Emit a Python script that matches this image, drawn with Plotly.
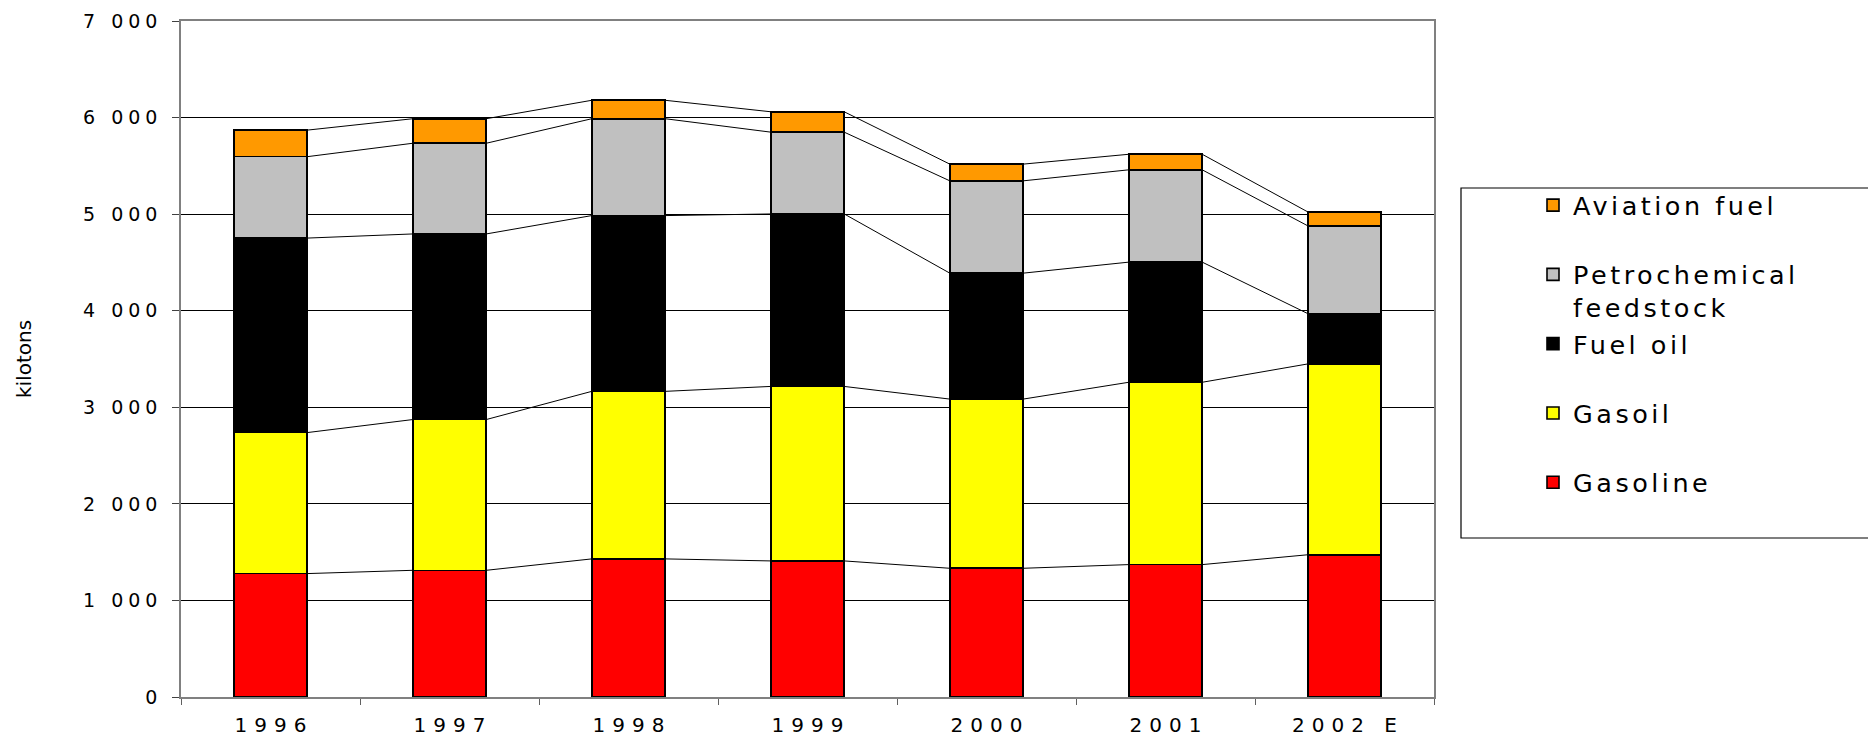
import plotly.graph_objects as go

# Oil product consumption, kilotons
years = ["1996", "1997", "1998", "1999", "2000", "2001", "2002 E"]

gasoline = [1278, 1312, 1430, 1409, 1333, 1371, 1473]
gasoil = [1460, 1561, 1735, 1807, 1752, 1888, 1976]
fuel_oil = [2014, 1922, 1820, 1786, 1304, 1244, 521]
petrochemical = [843, 939, 1003, 847, 956, 956, 909]
aviation = [275, 254, 191, 211, 173, 161, 144]

series_names = ["Gasoline", "Gasoil", "Fuel oil", "Petrochemical<br>feedstock", "Aviation fuel"]
series_colors = ["#FF0000", "#FFFF00", "#000000", "#C0C0C0", "#FF9900"]
series_values = [gasoline, gasoil, fuel_oil, petrochemical, aviation]

y_ticks = [0, 1000, 2000, 3000, 4000, 5000, 6000, 7000]
y_tick_labels = ["0", "1 000", "2 000", "3 000", "4 000", "5 000", "6 000", "7 000"]

BAR_W = 0.41
x = list(range(len(years)))

fig = go.Figure()

# stacked bars; every legend entry takes two text lines so entries are evenly spaced
for name, color, vals in zip(series_names, series_colors, series_values):
    label = name if "<br>" in name else name + "<br> "
    fig.add_trace(go.Bar(
        x=x, y=vals, name=label, width=BAR_W,
        marker=dict(color=color, line=dict(color="#000000", width=1.6)),
        legendgroup=name, hoverinfo="skip",
    ))

# series lines joining the top of each segment from one bar to the next
running = [0] * len(years)
for name, vals in zip(series_names, series_values):
    running = [a + b for a, b in zip(running, vals)]
    lx, ly = [], []
    for i in range(len(years) - 1):
        lx += [x[i] + BAR_W / 2, x[i + 1] - BAR_W / 2, None]
        ly += [running[i], running[i + 1], None]
    fig.add_trace(go.Scatter(
        x=lx, y=ly, mode="lines", line=dict(color="#000000", width=1),
        showlegend=False, legendgroup=name, hoverinfo="skip",
    ))

W, H = 1868, 736
ML, MR, MT, MB = 181, 434, 21, 39
pw, ph = W - ML - MR, H - MT - MB


def px_x(v):
    return (v - ML) / pw


def px_y(v):
    return (H - MB - v) / ph


fig.update_layout(
    width=W, height=H,
    margin=dict(l=ML, r=MR, t=MT, b=MB, pad=0, autoexpand=False),
    paper_bgcolor="white", plot_bgcolor="white",
    font=dict(family="DejaVu Sans", color="#000000"),
    barmode="stack",
    showlegend=True,
    legend=dict(
        x=px_x(1533), xanchor="left", y=px_y(182), yanchor="top",
        font=dict(size=25.5), bgcolor="rgba(0,0,0,0)", borderwidth=0,
        traceorder="reversed", valign="top",
    ),
    shapes=[dict(
        type="rect", xref="paper", yref="paper",
        x0=px_x(1461), x1=px_x(1880), y0=px_y(538), y1=px_y(188),
        line=dict(color="#000000", width=1.2), fillcolor="rgba(0,0,0,0)",
        layer="above",
    )],
)

fig.update_xaxes(
    range=[-0.5, len(years) - 0.5],
    tickvals=x, ticktext=years, ticks="",
    tickfont=dict(size=20),
    ticklabelstandoff=9,
    automargin=False,
    showgrid=False, zeroline=False,
    showline=True, linecolor="#808080", linewidth=1.6, mirror=True,
    minor=dict(tick0=-0.5, dtick=1, ticks="outside", ticklen=6,
               tickcolor="#606060", tickwidth=1.2, showgrid=False),
)

fig.update_yaxes(
    range=[0, 7000],
    tickvals=y_ticks, ticktext=y_tick_labels,
    ticks="outside", ticklen=7, tickcolor="#404040", tickwidth=1.2,
    tickfont=dict(size=19),
    ticklabelstandoff=11,
    showgrid=True, gridcolor="#000000", gridwidth=1,
    zeroline=False,
    showline=True, linecolor="#808080", linewidth=1.6, mirror=True,
    title=dict(text="kilotons", font=dict(size=20), standoff=66),
    automargin=False,
)

# Wide letter spacing: tick labels are spread with textLength so their anchoring
# stays right; legend texts use CSS spacing and the legend is left unclipped.
spacing_css = (
    ".legendtext{letter-spacing:3.5px}"
    ".legend g{clip-path:none !important}"
)
post_js = (
    "var s=document.createElement('style');"
    "s.textContent='" + spacing_css + "';"
    "document.head.appendChild(s);"
    "function spread(sel, extra){"
    "document.querySelectorAll(sel).forEach(function(t){"
    "var n=t.textContent.length; if(n<2) return;"
    "var w=t.getComputedTextLength();"
    "t.setAttribute('textLength', w+(n-1)*extra);"
    "t.setAttribute('lengthAdjust','spacing');"
    "});}"
    "spread('.xtick text', 7);"
    "spread('.ytick text', 5);"
)

fig.write_html("out.html", post_script=post_js)
